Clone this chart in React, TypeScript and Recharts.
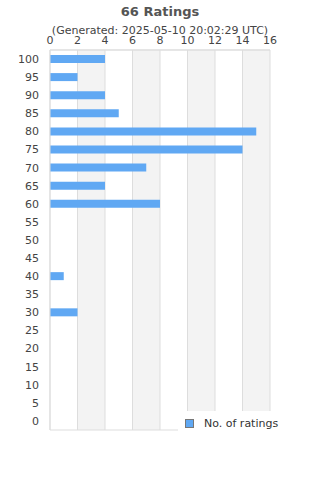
import { BarChart, Bar, XAxis, YAxis, CartesianGrid, Legend } from "recharts";

const scores = ["100", "95", "90", "85", "80", "75", "70", "65", "60", "55", "50", "45", "40", "35", "30", "25", "20", "15", "10", "5", "0"];
const ratingCounts = [4, 2, 4, 5, 15, 14, 7, 4, 8, 0, 0, 0, 1, 0, 2, 0, 0, 0, 0, 0, 0];
const countTicks = [0, 2, 4, 6, 8, 10, 12, 14, 16];

const title = "66 Ratings";
const subtitle = "(Generated: 2025-05-10 20:02:29 UTC)";
const seriesName = "No. of ratings";

const FONT = "'DejaVu Sans', sans-serif";
const BAR = "#60a8f3";

const data = scores.map((s, i) => ({ score: s, count: ratingCounts[i] }));

function LegendBox() {
  return (
    <div style={{ background: "#fff", height: 24, display: "flex", alignItems: "center", fontFamily: FONT, fontSize: 11, color: "#333" }}>
      <span style={{ display: "inline-block", width: 7, height: 7, background: BAR, border: "1px solid #777", marginLeft: 7, marginRight: 10 }} />
      {seriesName}
    </div>
  );
}

export default function App() {
  return (
    <div style={{ position: "absolute", left: 0, top: 0, width: 320, height: 480, background: "#fff" }}>
      <div style={{ position: "absolute", top: 4, width: 320, textAlign: "center", fontFamily: FONT, fontSize: 13, fontWeight: "bold", color: "#555" }}>
        {title}
      </div>
      <div style={{ position: "absolute", top: 24, width: 320, textAlign: "center", fontFamily: FONT, fontSize: 11, color: "#444" }}>
        {subtitle}
      </div>
      <BarChart
        width={320}
        height={480}
        data={data}
        layout="vertical"
        margin={{ top: 30, right: 50, bottom: 26, left: 0 }}
        style={{ fontFamily: FONT }}
      >
        <CartesianGrid
          stroke="#ddd"
          verticalFill={["#fff", "#f3f3f3"]}
          horizontalCoordinatesGenerator={({ offset }: any) => [offset.top, offset.top + offset.height]}
        />
        <XAxis
          type="number"
          orientation="top"
          domain={[0, 16]}
          ticks={countTicks}
          height={20}
          axisLine={{ stroke: "#ddd" }}
          tickLine={false}
          tickSize={0}
          tickMargin={6}
          tick={{ fontSize: 11, fill: "#444" }}
        />
        <YAxis
          type="category"
          dataKey="score"
          width={50}
          axisLine={{ stroke: "#ddd" }}
          tickLine={false}
          tickSize={0}
          tickMargin={11}
          interval={0}
          tick={{ fontSize: 11, fill: "#444" }}
        />
        <Legend
          content={() => <LegendBox />}
          wrapperStyle={{ position: "absolute", left: 178, top: 411, width: 142, bottom: "auto" }}
        />
        <Bar dataKey="count" name={seriesName} fill={BAR} barSize={8} isAnimationActive={false} />
      </BarChart>
    </div>
  );
}
